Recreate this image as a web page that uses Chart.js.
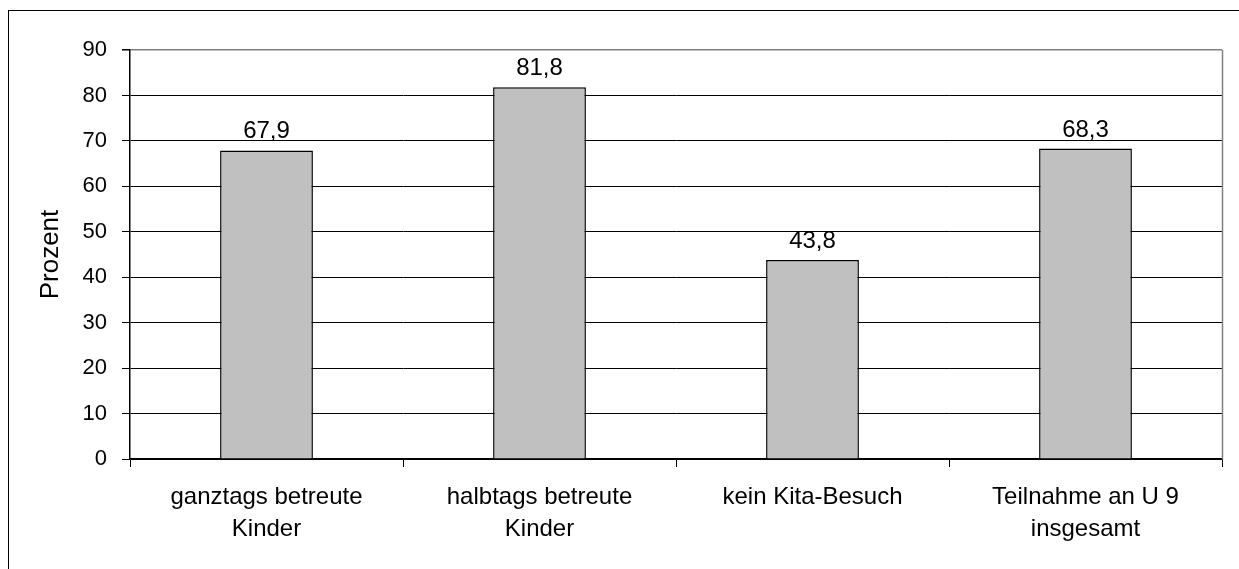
<!DOCTYPE html>
<html lang="de">
<head>
<meta charset="utf-8">
<title>U 9 Teilnahme</title>
<script src="https://cdn.jsdelivr.net/npm/chart.js@4/dist/chart.umd.min.js"></script>
<style>
    html, body { margin: 0; padding: 0; background: #fff; }
    canvas { display: block; }
</style>
</head>
<body>
<canvas id="chart" width="1239" height="569"></canvas>
<script>
// Categories (multi-line labels) and values in percent
const categories = [
    ['ganztags betreute', 'Kinder'],
    ['halbtags betreute', 'Kinder'],
    ['kein Kita-Besuch'],
    ['Teilnahme an U 9', 'insgesamt']
];
const values = [67.9, 81.8, 43.8, 68.3];
const yTicks = [0, 10, 20, 30, 40, 50, 60, 70, 80, 90];

const fontFamily = '"Liberation Sans", Arial, sans-serif';

// Format numbers with German decimal comma
function formatValue(v) {
    return v.toFixed(1).replace('.', ',');
}

// Outer frame and grey right border of the plot area
const framePlugin = {
    id: 'frame',
    beforeDraw(chart) {
        const ctx = chart.ctx;
        ctx.save();
        ctx.fillStyle = '#fff';
        ctx.fillRect(0, 0, chart.width, chart.height);
        ctx.strokeStyle = '#000';
        ctx.lineWidth = 1;
        ctx.strokeRect(8.5, 10.5, chart.width + 10, chart.height + 10);
        ctx.restore();
    },
    afterDraw(chart) {
        const { top, right, bottom } = chart.chartArea;
        const ctx = chart.ctx;
        ctx.save();
        ctx.strokeStyle = '#808080';
        ctx.lineWidth = 1.5;
        ctx.beginPath();
        ctx.moveTo(Math.round(right) + 0.5, top);
        ctx.lineTo(Math.round(right) + 0.5, bottom);
        ctx.stroke();
        ctx.restore();
    }
};

// Value labels above each bar
const valueLabels = {
    id: 'valueLabels',
    afterDatasetsDraw(chart) {
        const ctx = chart.ctx;
        ctx.save();
        ctx.font = '24px ' + fontFamily;
        ctx.fillStyle = '#000';
        ctx.textAlign = 'center';
        ctx.textBaseline = 'alphabetic';
        chart.getDatasetMeta(0).data.forEach((bar, i) => {
            ctx.fillText(formatValue(values[i]), bar.x, bar.y - 12);
        });
        ctx.restore();
    }
};

const ctx = document.getElementById('chart').getContext('2d');

new Chart(ctx, {
    type: 'bar',
    data: {
        labels: categories,
        datasets: [{
            data: values,
            backgroundColor: '#c0c0c0',
            borderColor: '#000',
            borderWidth: 1.5,
            barPercentage: 0.34,
            categoryPercentage: 1
        }]
    },
    options: {
        responsive: false,
        animation: false,
        devicePixelRatio: 1,
        layout: { padding: { left: 0, top: 50, right: 17, bottom: 0 } },
        plugins: {
            legend: { display: false },
            tooltip: { enabled: false }
        },
        scales: {
            x: {
                grid: {
                    offset: true,
                    drawOnChartArea: false,
                    drawTicks: true,
                    tickLength: 8,
                    color: '#000'
                },
                border: { color: '#000', width: 1.5 },
                ticks: {
                    color: '#000',
                    padding: 14,
                    maxRotation: 0,
                    font: { family: fontFamily, size: 24, lineHeight: 1.33 }
                },
                afterFit(scale) { scale.height = 110; }
            },
            y: {
                min: 0,
                max: 90,
                afterBuildTicks(scale) {
                    scale.ticks = yTicks.map(v => ({ value: v }));
                },
                grid: {
                    color: c => (c.tick && c.tick.value === 90 ? '#808080' : '#000'),
                    lineWidth: c => (c.tick && c.tick.value === 90 ? 1.5 : 1),
                    tickColor: '#000',
                    tickLength: 8
                },
                border: { color: '#000', width: 1.5 },
                ticks: {
                    color: '#000',
                    padding: 15,
                    font: { family: fontFamily, size: 22 }
                },
                title: {
                    display: true,
                    text: 'Prozent',
                    color: '#000',
                    padding: { top: 35, bottom: 0 },
                    font: { family: fontFamily, size: 26, lineHeight: 1.2 }
                },
                afterFit(scale) { scale.width = 130; }
            }
        }
    },
    plugins: [framePlugin, valueLabels]
});
</script>
</body>
</html>
